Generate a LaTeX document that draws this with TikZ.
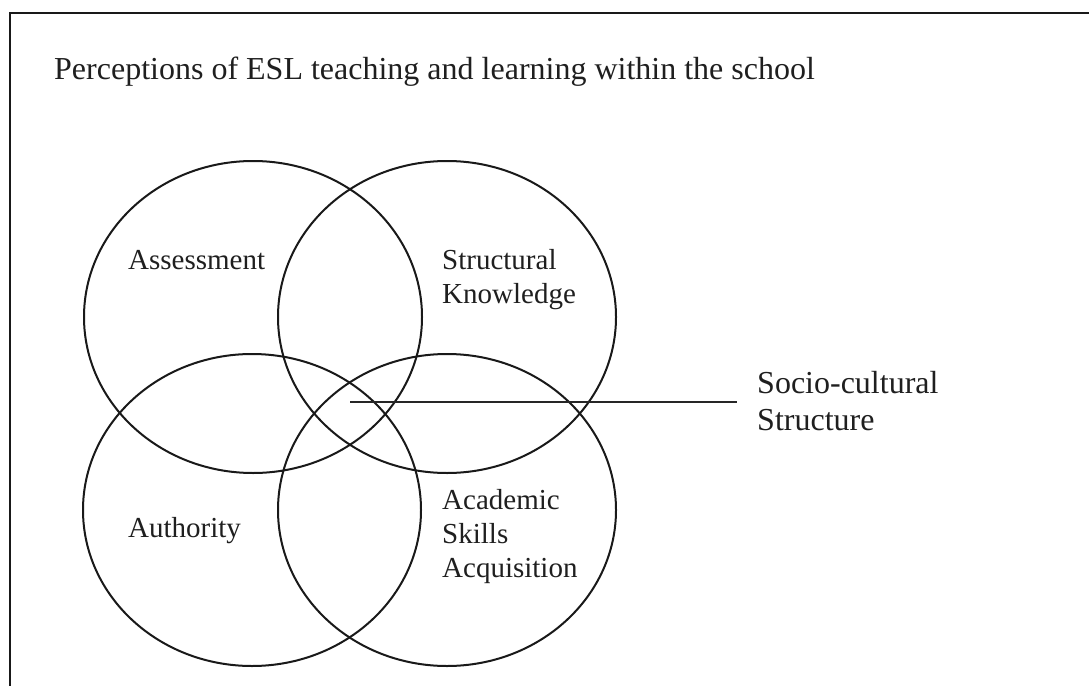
\documentclass[tikz,border=0pt]{standalone}
\usepackage{fontspec}
\setmainfont{Liberation Serif}
\usetikzlibrary{shapes.geometric}
\begin{document}
\begin{tikzpicture}[x=1pt,y=-1pt,
  ring/.style={draw=black!90, ellipse, line width=2pt, minimum width=338pt, minimum height=312pt, inner sep=0pt},
  lbl/.style={font=\fontsize{29}{34}\selectfont, anchor=base west, inner sep=0pt, align=left, text=black!88},
  big/.style={font=\fontsize{32}{37}\selectfont, anchor=base west, inner sep=0pt, align=left, text=black!88}]
\useasboundingbox (0,0) rectangle (1089,685);
\clip (0,0) rectangle (1089,685);
% outer frame (runs off the page on the right and at the bottom)
\draw[line width=2.2pt, black!90] (10,720) -- (10,13) -- (1120,13);
% title
\node[big] (title) at (54,79) {Perceptions of ESL teaching and learning within the school};
% the four overlapping rings
\node[ring] (assess) at (253,317) {};
\node[ring] (struct) at (447,317) {};
\node[ring] (auth)   at (252,510) {};
\node[ring] (acad)   at (447,510) {};
% ring labels (base = baseline of the last line)
\node[lbl] (assessT) at (128,269) {Assessment};
\node[lbl] (structT) at (442,303) {Structural\\Knowledge};
\node[lbl] (authT)   at (128,537) {Authority};
\node[lbl] (acadT)   at (442,577) {Academic\\Skills\\Acquisition};
% pointer from the central overlap to its label
\coordinate (centre) at (350,402);
\node[big] (socio) at (757,430) {Socio-cultural\\Structure};
\draw[line width=1.6pt, black!85, shorten >=20pt] (centre) -- (socio.west |- centre);
\end{tikzpicture}
\end{document}
